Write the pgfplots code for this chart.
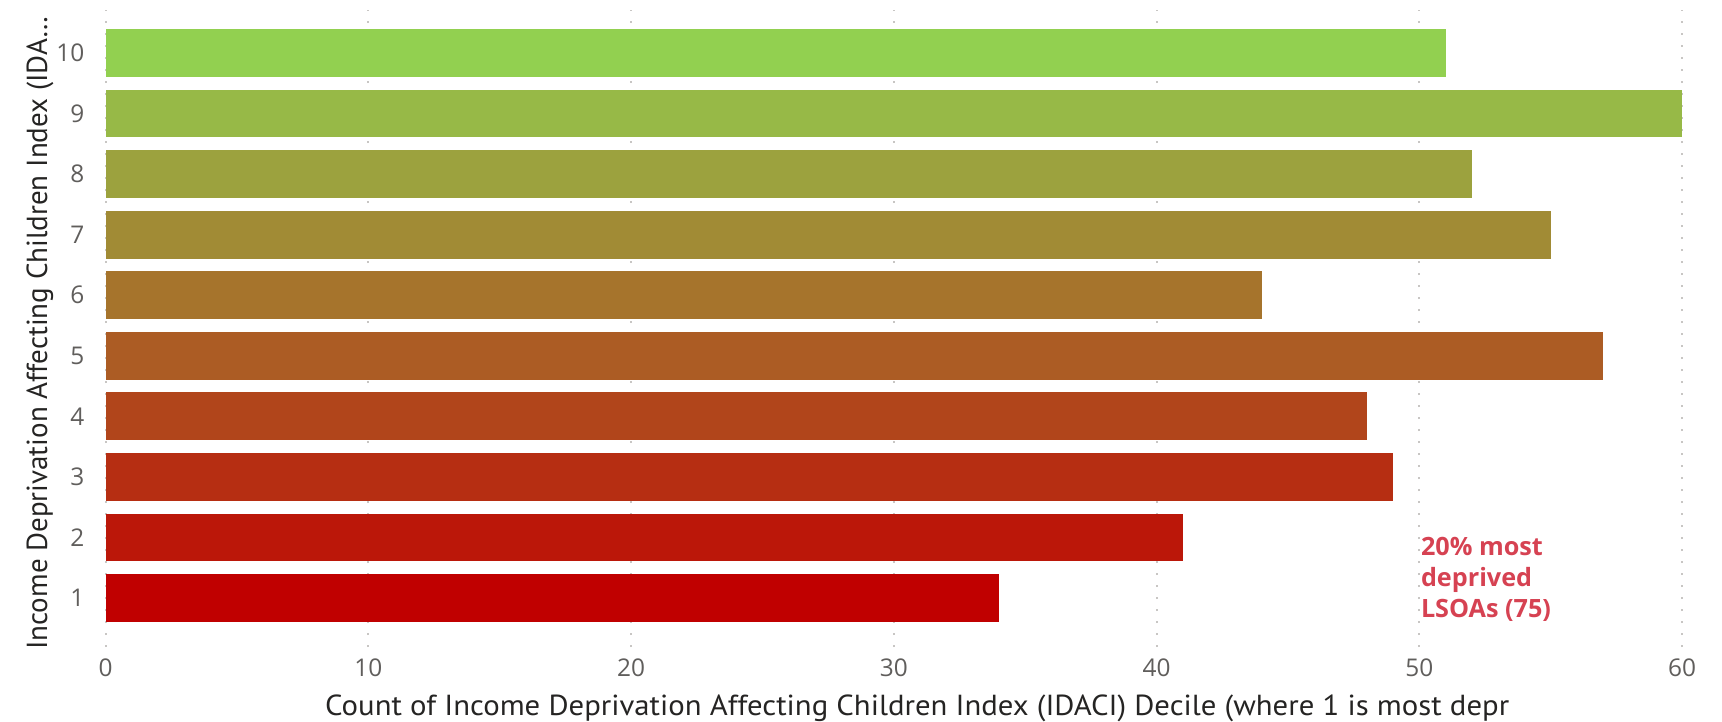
\documentclass[border=0pt]{standalone}
\usepackage{fontspec}
\setmainfont{Open Sans}
\newfontfamily\dinfont[FakeStretch=1.06]{PT Sans}
\newfontfamily\dinfontY[FakeStretch=1.0]{PT Sans}
\newfontfamily\tickfont{Open Sans}
\usepackage{pgfplots}
\pgfplotsset{compat=1.18}
\definecolor{c1}{RGB}{192,0,0}
\definecolor{c2}{RGB}{187,23,9}
\definecolor{c3}{RGB}{182,46,18}
\definecolor{c4}{RGB}{177,69,27}
\definecolor{c5}{RGB}{172,92,36}
\definecolor{c6}{RGB}{166,116,44}
\definecolor{c7}{RGB}{161,139,53}
\definecolor{c8}{RGB}{156,162,62}
\definecolor{c9}{RGB}{151,185,71}
\definecolor{c10}{RGB}{146,208,80}
\definecolor{tickgray}{RGB}{96,94,92}
\definecolor{titlegray}{RGB}{37,36,35}
\definecolor{gridgray}{RGB}{200,198,196}
\definecolor{annot}{RGB}{214,66,82}
\begin{document}
\begin{tikzpicture}
\useasboundingbox (-52.85pt,-37pt) rectangle (808pt,323.5pt);
\begin{axis}[
  at={(0,0)}, anchor=south west,
  scale only axis,
  width=788pt, height=318.5pt,
  xbar, bar shift=0pt, bar width=0.79,
  xmin=0, xmax=60,
  ymin=0.19, ymax=10.71,
  xtick={0,10,20,30,40,50,60},
  ytick={1,2,3,4,5,6,7,8,9,10},
  axis line style={draw=none},
  major tick length=0pt,
  xmajorgrids,
  major x grid style={gridgray, line width=1pt, dash pattern=on 1pt off 5pt},
  ticklabel style={font=\tickfont\fontsize{12.2}{14}\selectfont, text=tickgray},
  /pgf/number format/assume math mode=true,
  xticklabel style={anchor=center, yshift=-10.5pt},
  yticklabel style={anchor=east, inner sep=0pt, xshift=-10.5pt},
  xlabel={Count of Income Deprivation Affecting Children Index (IDACI) Decile (where 1 is most depr},
  xlabel style={at={(axis description cs:0.139,0)}, anchor=base west, yshift=-34pt, font=\dinfont\fontsize{14.5}{16}\selectfont, text=titlegray, inner sep=0pt},
  ylabel={Income Deprivation Affecting Children Index (IDA…},
  ylabel style={at={(axis description cs:0,0.493)}, anchor=center, yshift=32.9pt, font=\dinfontY\fontsize{14.5}{16}\selectfont, text=titlegray, inner sep=0pt},
  clip=false,
  every axis plot/.append style={draw=none},
]
\addplot[fill=c1] coordinates {(34,1)};
\addplot[fill=c2] coordinates {(41,2)};
\addplot[fill=c3] coordinates {(49,3)};
\addplot[fill=c4] coordinates {(48,4)};
\addplot[fill=c5] coordinates {(57,5)};
\addplot[fill=c6] coordinates {(44,6)};
\addplot[fill=c7] coordinates {(55,7)};
\addplot[fill=c8] coordinates {(52,8)};
\addplot[fill=c9] coordinates {(60,9)};
\addplot[fill=c10] coordinates {(51,10)};
\node[anchor=base west, inner sep=0pt, align=left, text=annot,
  font=\fontsize{12.6}{15.3}\selectfont\bfseries]
  at (axis cs:50.05,0.686) {20\% most\\deprived\\LSOAs (75)};
\end{axis}
\end{tikzpicture}
\end{document}
